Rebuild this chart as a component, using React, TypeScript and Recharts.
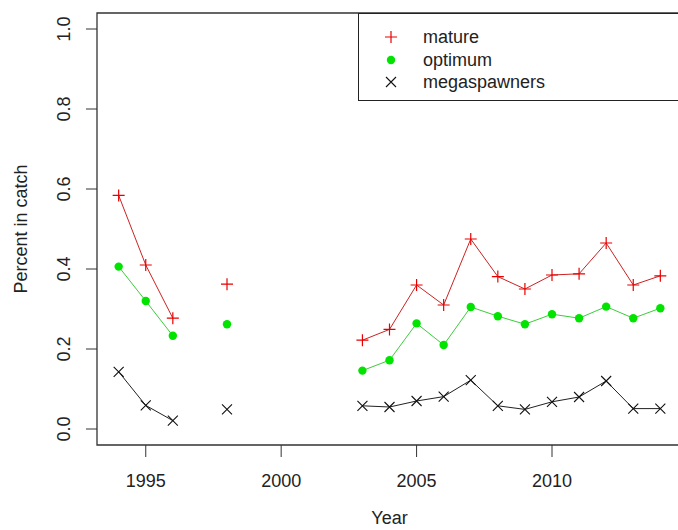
import {
  ComposedChart,
  Line,
  XAxis,
  YAxis,
  ReferenceArea,
} from 'recharts';

const years = [
  1994, 1995, 1996, 1997, 1998, 1999, 2000, 2001, 2002, 2003, 2004,
  2005, 2006, 2007, 2008, 2009, 2010, 2011, 2012, 2013, 2014,
];
const mature = [
  0.584, 0.41, 0.277, null, 0.362, null, null, null, null, 0.222, 0.249,
  0.36, 0.31, 0.475, 0.381, 0.35, 0.385, 0.388, 0.465, 0.36, 0.383,
];
const optimum = [
  0.406, 0.32, 0.233, null, 0.262, null, null, null, null, 0.146, 0.172,
  0.264, 0.21, 0.305, 0.282, 0.262, 0.287, 0.277, 0.306, 0.277, 0.302,
];
const megaspawners = [
  0.143, 0.059, 0.021, null, 0.049, null, null, null, null, 0.058, 0.055,
  0.07, 0.081, 0.122, 0.058, 0.049, 0.068, 0.08, 0.12, 0.051, 0.051,
];
const xTicks = [1995, 2000, 2005, 2010];
const yTicks = [0, 0.2, 0.4, 0.6, 0.8, 1.0];

const data = years.map((year, i) => ({
  year,
  mature: mature[i],
  optimum: optimum[i],
  megaspawners: megaspawners[i],
}));

const FONT = '"Liberation Sans", Arial, sans-serif';
const AXIS = '#333';

function PlusDot(props: any) {
  const { cx, cy, index } = props;
  if (cx == null || cy == null || props.value == null) return <g key={`p-${index}`} />;
  return (
    <path
      key={`p-${index}`}
      d={`M${cx - 6},${cy}H${cx + 6}M${cx},${cy - 6}V${cy + 6}`}
      stroke="#e80000"
      strokeWidth={1.2}
      fill="none"
    />
  );
}

function CircleDot(props: any) {
  const { cx, cy, index } = props;
  if (cx == null || cy == null || props.value == null) return <g key={`c-${index}`} />;
  return <circle key={`c-${index}`} cx={cx} cy={cy} r={4.2} fill="#00e400" />;
}

function CrossDot(props: any) {
  const { cx, cy, index } = props;
  if (cx == null || cy == null || props.value == null) return <g key={`x-${index}`} />;
  return (
    <path
      key={`x-${index}`}
      d={`M${cx - 5},${cy - 5}L${cx + 5},${cy + 5}M${cx - 5},${cy + 5}L${cx + 5},${cy - 5}`}
      stroke="#111"
      strokeWidth={1.1}
      fill="none"
    />
  );
}

function XTick(props: any) {
  const { x, y, payload } = props;
  return (
    <text x={x} y={y} dy={29.5} textAnchor="middle" fill="#222" fontSize={18} fontFamily={FONT}>
      {payload.value}
    </text>
  );
}

function YTick(props: any) {
  const { x, y, payload } = props;
  const tx = x - 16;
  return (
    <text
      x={tx}
      y={y}
      textAnchor="middle"
      transform={`rotate(-90, ${tx}, ${y})`}
      fill="#222"
      fontSize={18}
      fontFamily={FONT}
    >
      {Number(payload.value).toFixed(1)}
    </text>
  );
}

const legendItems = [
  { label: 'mature', kind: 'plus' },
  { label: 'optimum', kind: 'dot' },
  { label: 'megaspawners', kind: 'cross' },
];

// legend box in the top-right corner, drawn over the plot
function LegendBox() {
  return (
    <div
      style={{
        position: 'absolute',
        left: 358,
        top: 13,
        width: 330,
        height: 88,
        border: '1px solid #222',
        boxSizing: 'border-box',
        background: '#fff',
        fontFamily: FONT,
        fontSize: 18,
        color: '#222',
      }}
    >
      {legendItems.map((item, i) => (
        <div
          key={item.label}
          style={{ position: 'absolute', left: 0, top: 13 + i * 22.5, height: 22, width: 320 }}
        >
          <svg width={20} height={20} style={{ position: 'absolute', left: 22, top: 0 }}>
            {item.kind === 'plus' && (
              <path d="M4,10H16M10,4V16" stroke="#e80000" strokeWidth={1.2} fill="none" />
            )}
            {item.kind === 'dot' && <circle cx={10} cy={10} r={4.2} fill="#00e400" />}
            {item.kind === 'cross' && (
              <path d="M5,5L15,15M5,15L15,5" stroke="#111" strokeWidth={1.1} fill="none" />
            )}
          </svg>
          <span style={{ position: 'absolute', left: 64, top: 0, lineHeight: '20px' }}>
            {item.label}
          </span>
        </div>
      ))}
    </div>
  );
}

export default function App() {
  return (
    <div
      style={{
        position: 'absolute',
        left: 0,
        top: 0,
        width: 678,
        height: 530,
        overflow: 'hidden',
        background: '#fff',
      }}
    >
      <ComposedChart
        width={682}
        height={530}
        data={data}
        margin={{ top: 13, right: 0, left: 0, bottom: 0 }}
        style={{ fontFamily: FONT }}
      >
        <XAxis
          dataKey="year"
          type="number"
          domain={[1993.2, 2014.8]}
          allowDataOverflow
          ticks={xTicks}
          tick={<XTick />}
          tickSize={12}
          tickMargin={0}
          height={85}
          stroke={AXIS}
          axisLine={false}
          label={{
            value: 'Year',
            position: 'insideBottom',
            offset: 6,
            fill: '#222',
            fontSize: 18,
            fontFamily: FONT,
          }}
        />
        <YAxis
          type="number"
          domain={[-0.04, 1.04]}
          allowDataOverflow
          ticks={yTicks}
          tick={<YTick />}
          tickSize={11}
          tickMargin={0}
          width={97}
          stroke={AXIS}
          axisLine={false}
          label={() => (
            <text
              x={27}
              y={229}
              textAnchor="middle"
              transform="rotate(-90, 27, 229)"
              fill="#222"
              fontSize={18}
              fontFamily={FONT}
            >
              Percent in catch
            </text>
          )}
        />
        <ReferenceArea
          x1={1993.2}
          x2={2014.8}
          y1={-0.04}
          y2={1.04}
          fill="none"
          stroke={AXIS}
          strokeWidth={1.3}
          ifOverflow="visible"
        />
        <Line
          dataKey="mature"
          stroke="#cc2222"
          strokeWidth={1}
          dot={<PlusDot />}
          activeDot={false}
          connectNulls={false}
          isAnimationActive={false}
        />
        <Line
          dataKey="optimum"
          stroke="#3ccc3c"
          strokeWidth={1}
          dot={<CircleDot />}
          activeDot={false}
          connectNulls={false}
          isAnimationActive={false}
        />
        <Line
          dataKey="megaspawners"
          stroke="#222"
          strokeWidth={1}
          dot={<CrossDot />}
          activeDot={false}
          connectNulls={false}
          isAnimationActive={false}
        />
      </ComposedChart>
      <LegendBox />
    </div>
  );
}
